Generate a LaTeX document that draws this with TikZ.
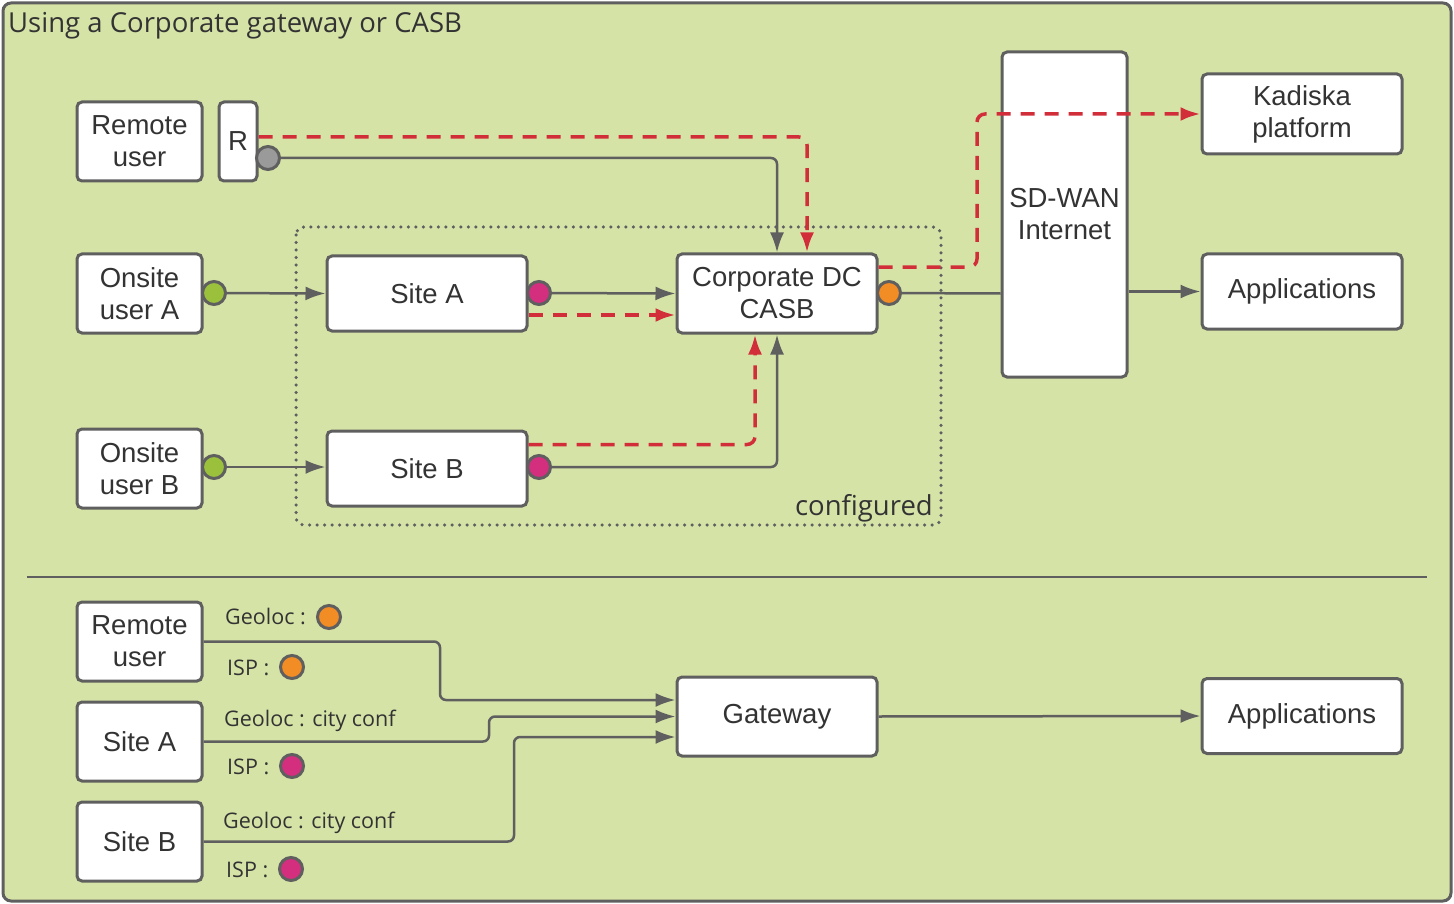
\documentclass[tikz,border=0pt]{standalone}
\usepackage{fontspec}
\setmainfont{Liberation Sans}
\newfontfamily\labelfont{Open Sans}
\usepackage{xcolor}
\usepackage{tikz}
\usetikzlibrary{arrows.meta, positioning}

\definecolor{bggreen}{HTML}{D5E3A7}
\definecolor{linegray}{HTML}{5F5F5F}
\definecolor{flowred}{HTML}{D12E3A}
\definecolor{dotgreen}{HTML}{9BC13C}
\definecolor{dotpink}{HTML}{D42E7E}
\definecolor{dotorange}{HTML}{F28C24}
\definecolor{dotgray}{HTML}{9A9A9A}
\definecolor{textgray}{HTML}{333333}

\tikzset{
    box/.style={draw=linegray, line width=3pt, fill=white, rounded corners=5pt,
        minimum width=125pt, minimum height=79pt, inner sep=0pt, align=center,
        text=textgray, font=\fontsize{27.5}{32}\selectfont},
    widebox/.style={box, minimum width=200pt},
    port/.style={circle, draw=linegray, line width=3pt, minimum size=23pt, inner sep=0pt},
    link/.style={draw=linegray, line width=2.5pt, rounded corners=6pt},
    flow/.style={draw=flowred, line width=3.5pt, dash pattern=on 14pt off 10pt, rounded corners=8pt},
    tag/.style={font=\labelfont\fontsize{21.5}{26}\selectfont, text=textgray, inner sep=0pt, anchor=base west},
}

\begin{document}
\begin{tikzpicture}[x=1pt, y=-1pt, >={Latex[length=20pt, width=14pt]}]
    \useasboundingbox (0,0) rectangle (1454,904);
    % Cadre
    \draw[linegray, line width=3pt, fill=bggreen, rounded corners=8pt] (3,3) rectangle (1451,901);
    \node[tag, font=\labelfont\fontsize{27.5}{32}\selectfont] (title) at (8,33) {Using a Corporate gateway or CASB};

    % Zone configuree
    \draw[linegray, line width=3.5pt, dash pattern=on 0pt off 7.5pt, line cap=round, rounded corners=8pt]
        (296,227) rectangle (941,525);
    \node[tag, anchor=base east, font=\labelfont\fontsize{27.5}{32}\selectfont] (conf) at (933,515) {configured};

    % Partie haute
    \node[box] (remote) at (139.5,141.5) {Remote\\user};
    \node[box, minimum width=38pt] (r) at (238,141.5) {R};
    \node[box] (onA) at (139.5,293.5) {Onsite\\user A};
    \node[box] (onB) at (139.5,468.5) {Onsite\\user B};
    \node[widebox, minimum height=75pt] (siteA) at (427,293.5) {Site A};
    \node[widebox, minimum height=75pt] (siteB) at (427,468.5) {Site B};
    \node[widebox] (casb) at (777,293.5) {Corporate DC\\CASB};
    \node[box, minimum height=325pt] (sdwan) at (1064.5,214.5) {SD-WAN\\Internet};
    \node[widebox, minimum height=80pt] (kadiska) at (1302,114) {Kadiska\\platform};
    \node[widebox, minimum height=75pt] (appsT) at (1302,291.5) {Applications};

    \coordinate (turn) at (977,267);

    \draw[link, ->] (268,158) -| (casb.north);
    \draw[link, ->] (214,293) -- (siteA.west);
    \draw[link, ->] (214,467) -- (siteB.west |- 0,467);
    \draw[link, ->] (539,293) -- (casb.west);
    \draw[link, ->] (539,467) -| (casb.south);
    \draw[link] (889,293) -- (sdwan.west |- casb.west);
    \draw[link, ->] (sdwan.east |- appsT.west) -- (appsT.west);

    \draw[flow, ->] ([yshift=4.5pt]r.east) -| ([xshift=30pt]casb.north);
    \draw[flow, ->] ([yshift=-21.5pt]siteA.east) -- ([yshift=-21.5pt]casb.west);
    \draw[flow, ->] ([yshift=24pt]siteB.east) -| ([xshift=-22pt]casb.south);
    \draw[flow, ->] ([yshift=26.5pt]casb.east) -- (turn) |- (kadiska.west);

    \node[port, fill=dotgray] (rP) at (268,158) {};
    \node[port, fill=dotgreen] (onAP) at (214,293) {};
    \node[port, fill=dotgreen] (onBP) at (214,467) {};
    \node[port, fill=dotpink] (siteAP) at (539,293) {};
    \node[port, fill=dotpink] (siteBP) at (539,467) {};
    \node[port, fill=dotorange] (casbP) at (889,293) {};

    % Separation
    \draw[linegray, line width=2pt] (27,577) -- (1427,577);

    % Partie basse
    \node[box] (remote2) at (139.5,641.5) {Remote\\user};
    \node[box] (siteA2) at (139.5,741.5) {Site A};
    \node[box] (siteB2) at (139.5,841.5) {Site B};
    \node[widebox] (gateway) at (777,716.5) {Gateway};
    \node[widebox, minimum height=75pt] (appsB) at (1302,716) {Applications};

    \draw[link, ->] (remote2.east) -- (440,641.5) |- ([yshift=16.5pt]gateway.west);
    \draw[link, ->] (siteA2.east) -- (489,741.5) |- (gateway.west);
    \draw[link, ->] (siteB2.east) -- (514,841.5) |- ([yshift=-20.5pt]gateway.west);
    \draw[link, ->] (gateway.east) -- (appsB.west);

    \node[tag] (geo1) at (225,624) {Geoloc :};
    \node[port, fill=dotorange] (geo1P) at (329,617) {};
    \node[tag] (isp1) at (227,675) {ISP :};
    \node[port, fill=dotorange] (isp1P) at (292,667) {};
    \node[tag] (geo2) at (224,726) {Geoloc : city conf};
    \node[tag] (isp2) at (227,774) {ISP :};
    \node[port, fill=dotpink] (isp2P) at (292,766) {};
    \node[tag] (geo3) at (223,828) {Geoloc : city conf};
    \node[tag] (isp3) at (226,877) {ISP :};
    \node[port, fill=dotpink] (isp3P) at (291,869) {};
\end{tikzpicture}
\end{document}
